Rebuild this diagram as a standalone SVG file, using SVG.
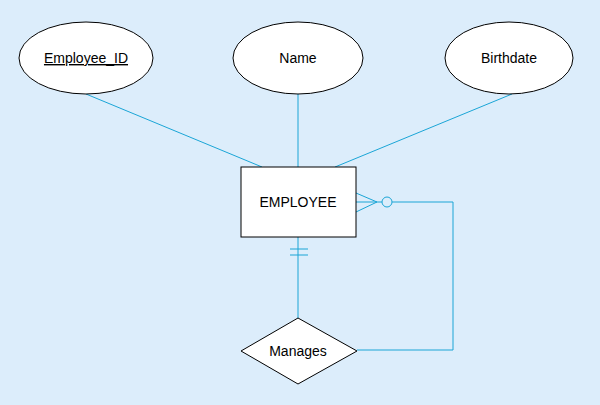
<svg xmlns="http://www.w3.org/2000/svg" width="600" height="405" viewBox="0 0 600 405">
<style>
.n{fill:#fff;stroke:#000;stroke-width:1}
.c{fill:none;stroke:#1aa5d6;stroke-width:1}
text{font-family:"Liberation Sans",Arial,sans-serif;font-size:14px;text-anchor:middle;fill:#000}
</style>
<rect width="600" height="405" fill="#dcedfb"/>
<g id="connectors" class="c">
<line x1="86" y1="94" x2="262" y2="167"/>
<line x1="298" y1="94" x2="298" y2="167"/>
<line x1="512" y1="94" x2="335" y2="167"/>
<line x1="356" y1="193" x2="377" y2="202"/>
<line x1="356" y1="212" x2="377" y2="202"/>
<line x1="356" y1="202" x2="382" y2="202"/>
<circle cx="387" cy="202" r="5"/>
<polyline points="392,202 453,202 453,350 357,350"/>
<line x1="298" y1="237" x2="298" y2="318"/>
<line x1="290" y1="249" x2="308" y2="249"/>
<line x1="290" y1="255" x2="308" y2="255"/>
</g>
<g id="employee_id"><ellipse class="n" cx="86" cy="58" rx="67" ry="36"/><text x="86" y="63" text-decoration="underline">Employee_ID</text></g>
<g id="name"><ellipse class="n" cx="298" cy="58" rx="65" ry="36"/><text x="298" y="63">Name</text></g>
<g id="birthdate"><ellipse class="n" cx="509" cy="58" rx="64" ry="36"/><text x="509" y="63">Birthdate</text></g>
<g id="employee"><rect class="n" x="241" y="167" width="115" height="70"/><text x="298" y="207">EMPLOYEE</text></g>
<g id="manages"><polygon class="n" points="298,318 357,351 298,384 241,351"/><text x="298" y="356">Manages</text></g>
</svg>
